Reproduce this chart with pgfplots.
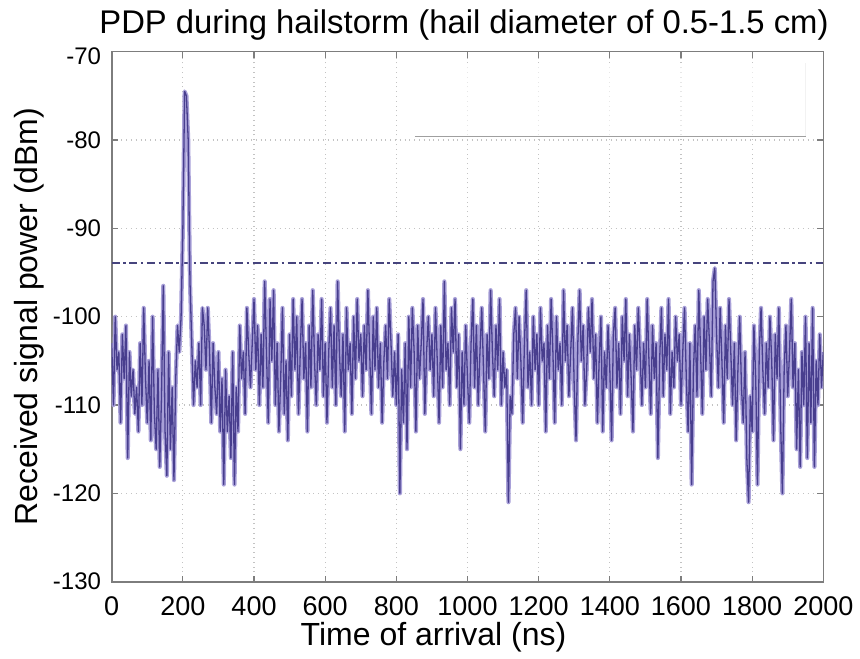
\documentclass[border=0pt]{standalone}
\usepackage{fontspec}
\setmainfont{Liberation Sans}
\usepackage{pgfplots}
\usepackage{pgfplotstable}
\pgfplotsset{compat=1.18}

\definecolor{pdpline}{RGB}{72,62,142}
\definecolor{pdphalo}{RGB}{168,160,216}
\definecolor{thrline}{RGB}{70,68,125}
\definecolor{gridgray}{RGB}{195,195,195}
\definecolor{framegray}{RGB}{125,125,125}

% Power delay profile: time of arrival (ns), received power (dBm)
\pgfplotstableread[row sep=\\]{
t p\\
0 -103\\ 5 -110\\ 10 -100\\ 15 -106\\ 20 -104\\ 25 -112\\ 30 -102\\ 35 -107\\ 40 -101\\ 45 -116\\
50 -104\\ 55 -109\\ 60 -106\\ 65 -111\\ 70 -108\\ 75 -113\\ 80 -103\\ 85 -110\\ 90 -99\\ 95 -107\\
100 -112\\ 105 -105\\ 110 -114\\ 115 -100\\ 120 -111\\ 125 -115\\ 130 -106\\ 135 -117\\ 140 -109\\ 145 -96.5\\
150 -113\\ 155 -118\\ 160 -104\\ 165 -115\\ 170 -108\\ 175 -118.5\\ 180 -107\\ 185 -101\\ 190 -104\\ 195 -100\\
200 -90\\ 205 -74.5\\ 210 -75\\ 215 -80\\ 220 -96\\ 225 -103\\ 230 -110\\ 235 -105\\ 240 -108\\ 245 -103\\
250 -110\\ 255 -99\\ 260 -101\\ 265 -106\\ 270 -99\\ 275 -104\\ 280 -112\\ 285 -103\\ 290 -108\\ 295 -111\\
300 -104\\ 305 -113\\ 310 -107\\ 315 -119\\ 320 -106\\ 325 -113\\ 330 -109\\ 335 -116\\ 340 -104\\ 345 -119\\
350 -108\\ 355 -113\\ 360 -101\\ 365 -107\\ 370 -104\\ 375 -111\\ 380 -99\\ 385 -104\\ 390 -108\\ 395 -103\\
400 -98\\ 405 -106\\ 410 -101\\ 415 -110\\ 420 -102\\ 425 -108\\ 430 -96\\ 435 -104\\ 440 -112\\ 445 -98\\
450 -105\\ 455 -97\\ 460 -110\\ 465 -103\\ 470 -113\\ 475 -107\\ 480 -99\\ 485 -111\\ 490 -105\\ 495 -114\\
500 -102\\ 505 -109\\ 510 -98\\ 515 -106\\ 520 -100\\ 525 -111\\ 530 -104\\ 535 -98\\ 540 -107\\ 545 -103\\
550 -113\\ 555 -101\\ 560 -108\\ 565 -97\\ 570 -105\\ 575 -110\\ 580 -102\\ 585 -106\\ 590 -98\\ 595 -109\\
600 -103\\ 605 -112\\ 610 -104\\ 615 -99\\ 620 -108\\ 625 -101\\ 630 -110\\ 635 -96\\ 640 -104\\ 645 -109\\
650 -102\\ 655 -113\\ 660 -99\\ 665 -106\\ 670 -103\\ 675 -111\\ 680 -100\\ 685 -107\\ 690 -98\\ 695 -105\\
700 -102\\ 705 -109\\ 710 -101\\ 715 -106\\ 720 -97\\ 725 -104\\ 730 -111\\ 735 -100\\ 740 -106\\ 745 -99\\
750 -108\\ 755 -103\\ 760 -112\\ 765 -105\\ 770 -101\\ 775 -107\\ 780 -98\\ 785 -103\\ 790 -109\\ 795 -104\\
800 -110\\ 805 -102\\ 810 -120\\ 815 -106\\ 820 -112\\ 825 -103\\ 830 -115\\ 835 -100\\ 840 -108\\ 845 -99\\
850 -104\\ 855 -113\\ 860 -101\\ 865 -107\\ 870 -103\\ 875 -98\\ 880 -111\\ 885 -104\\ 890 -100\\ 895 -106\\
900 -102\\ 905 -109\\ 910 -99\\ 915 -105\\ 920 -112\\ 925 -101\\ 930 -108\\ 935 -96\\ 940 -106\\ 945 -103\\
950 -110\\ 955 -99\\ 960 -104\\ 965 -98\\ 970 -108\\ 975 -102\\ 980 -115\\ 985 -104\\ 990 -110\\ 995 -101\\
1000 -107\\ 1005 -112\\ 1010 -103\\ 1015 -98\\ 1020 -108\\ 1025 -101\\ 1030 -110\\ 1035 -104\\ 1040 -99\\ 1045 -106\\
1050 -113\\ 1055 -102\\ 1060 -107\\ 1065 -97\\ 1070 -104\\ 1075 -109\\ 1080 -101\\ 1085 -106\\ 1090 -98\\ 1095 -110\\
1100 -104\\ 1105 -108\\ 1110 -106\\ 1115 -121\\ 1120 -109\\ 1125 -111\\ 1130 -102\\ 1135 -99\\ 1140 -107\\ 1145 -100\\
1150 -105\\ 1155 -112\\ 1160 -103\\ 1165 -97\\ 1170 -108\\ 1175 -104\\ 1180 -110\\ 1185 -100\\ 1190 -106\\ 1195 -102\\
1200 -110\\ 1205 -99\\ 1210 -105\\ 1215 -103\\ 1220 -113\\ 1225 -101\\ 1230 -107\\ 1235 -98\\ 1240 -104\\ 1245 -112\\
1250 -100\\ 1255 -106\\ 1260 -103\\ 1265 -110\\ 1270 -97\\ 1275 -105\\ 1280 -101\\ 1285 -109\\ 1290 -104\\ 1295 -99\\
1300 -108\\ 1305 -114\\ 1310 -103\\ 1315 -97\\ 1320 -105\\ 1325 -101\\ 1330 -110\\ 1335 -106\\ 1340 -99\\ 1345 -104\\
1350 -98\\ 1355 -107\\ 1360 -102\\ 1365 -112\\ 1370 -105\\ 1375 -100\\ 1380 -113\\ 1385 -104\\ 1390 -108\\ 1395 -101\\
1400 -106\\ 1405 -114\\ 1410 -102\\ 1415 -99\\ 1420 -108\\ 1425 -103\\ 1430 -111\\ 1435 -100\\ 1440 -105\\ 1445 -98\\
1450 -109\\ 1455 -102\\ 1460 -107\\ 1465 -113\\ 1470 -101\\ 1475 -106\\ 1480 -99\\ 1485 -104\\ 1490 -110\\ 1495 -103\\
1500 -108\\ 1505 -98\\ 1510 -105\\ 1515 -111\\ 1520 -101\\ 1525 -107\\ 1530 -103\\ 1535 -116\\ 1540 -105\\ 1545 -99\\
1550 -109\\ 1555 -102\\ 1560 -106\\ 1565 -98\\ 1570 -111\\ 1575 -104\\ 1580 -108\\ 1585 -100\\ 1590 -105\\ 1595 -102\\
1600 -110\\ 1605 -104\\ 1610 -99\\ 1615 -107\\ 1620 -113\\ 1625 -103\\ 1630 -119\\ 1635 -106\\ 1640 -101\\ 1645 -109\\
1650 -97\\ 1655 -104\\ 1660 -111\\ 1665 -100\\ 1670 -106\\ 1675 -98\\ 1680 -103\\ 1685 -109\\ 1690 -96\\ 1695 -94.5\\
1700 -102\\ 1705 -108\\ 1710 -99\\ 1715 -105\\ 1720 -112\\ 1725 -101\\ 1730 -107\\ 1735 -98\\ 1740 -104\\ 1745 -110\\
1750 -103\\ 1755 -114\\ 1760 -106\\ 1765 -100\\ 1770 -108\\ 1775 -112\\ 1780 -104\\ 1785 -116\\ 1790 -121\\ 1795 -109\\
1800 -113\\ 1805 -101\\ 1810 -107\\ 1815 -119\\ 1820 -104\\ 1825 -99\\ 1830 -106\\ 1835 -111\\ 1840 -103\\ 1845 -108\\
1850 -100\\ 1855 -105\\ 1860 -114\\ 1865 -102\\ 1870 -107\\ 1875 -99\\ 1880 -112\\ 1885 -120\\ 1890 -106\\ 1895 -101\\
1900 -109\\ 1905 -104\\ 1910 -98\\ 1915 -108\\ 1920 -103\\ 1925 -115\\ 1930 -106\\ 1935 -117\\ 1940 -104\\ 1945 -110\\
1950 -100\\ 1955 -116\\ 1960 -103\\ 1965 -112\\ 1970 -99\\ 1975 -117\\ 1980 -105\\ 1985 -110\\ 1990 -102\\ 1995 -108\\
2000 -104\\
}\pdpdata

\begin{document}
\begin{tikzpicture}
\begin{axis}[
  name=ax,
  at={(0,0)}, anchor=south west,
  width=355.8pt, height=265pt, scale only axis,
  xmin=0, xmax=2000, ymin=-130, ymax=-70,
  xtick={0,200,...,2000},
  ytick={-130,-120,-110,-100,-90,-80,-70},
  yticklabels={-130,-120,-110,-100,-90,-80,\raisebox{-13pt}{-70}},
  grid=major,
  grid style={gridgray, dotted, line width=0.6pt},
  axis line style={framegray, line width=0.8pt},
  tick style={framegray, line width=0.6pt},
  tick align=inside, major tick length=3pt,
  /pgf/number format/assume math mode=true,
  /pgf/number format/1000 sep={},
  xticklabel style={font=\fontsize{13.5}{15}\selectfont, anchor=base, yshift=-16.9pt},
  yticklabel style={font=\fontsize{12}{14}\selectfont, xshift=-1.8pt},
  clip=true,
]
  % legend frame (upper right)
  \fill[white, opacity=0.6] (axis cs:852,-71.3) rectangle (axis cs:1951,-79.6);
  \draw[gray!10, line width=0.5pt] (axis cs:1951,-71.3) -- (axis cs:1951,-79.6);
  \draw[gray!75, line width=0.6pt] (axis cs:852,-79.6) -- (axis cs:1951,-79.6);
  % detection threshold
  \addplot[thrline, line width=1.3pt, dash pattern=on 4pt off 1.8pt on 1.2pt off 1.8pt]
    coordinates {(0,-93.9) (2000,-93.9)};
  % measured profile: soft body with a darker core
  \addplot[pdphalo, line width=2.1pt, line join=round] table[x=t, y=p] {\pdpdata};
  \addplot[pdpline, line width=0.65pt, line join=round] table[x=t, y=p] {\pdpdata};
\end{axis}
\node[anchor=base, font=\fontsize{16.4}{18}\selectfont] at ([xshift=-1.75pt, yshift=9.1pt]ax.north)
  {PDP during hailstorm (hail diameter of 0.5-1.5 cm)};
\node[anchor=base, font=\fontsize{16}{18}\selectfont] at ([xshift=-17pt, yshift=-32pt]ax.south)
  {Time of arrival (ns)};
\node[anchor=base, rotate=90, font=\fontsize{16}{18}\selectfont] at ([xshift=-36.9pt]ax.west)
  {Received signal power (dBm)};
\pgfresetboundingbox
\path ([xshift=-55.85pt, yshift=-38.15pt]ax.south west) rectangle ([xshift=18.35pt, yshift=25.85pt]ax.north east);
\end{tikzpicture}
\end{document}
